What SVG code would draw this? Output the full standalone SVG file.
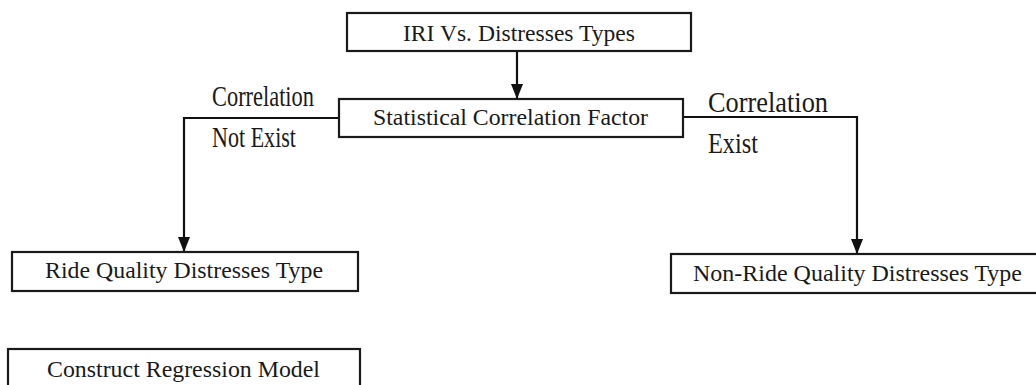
<svg xmlns="http://www.w3.org/2000/svg" width="1036" height="385" viewBox="0 0 1036 385">
<style>
.box{fill:#fff;stroke:#1a1a1a;stroke-width:2.2}
.bt{font-family:"Liberation Serif","Times New Roman",serif;font-size:23px;fill:#1a1a1a}
.lb{font-family:"Liberation Serif","Times New Roman",serif;font-size:30px;fill:#1a1a1a}
.cn{fill:none;stroke:#111;stroke-width:2.2}
</style>
<defs>
<marker id="ah" markerWidth="15" markerHeight="12" refX="15" refY="6" orient="auto" markerUnits="userSpaceOnUse" viewBox="0 0 15 12">
<path d="M0,0 L15,6 L0,12 Z" fill="#111"/>
</marker>
</defs>
<rect width="1036" height="385" fill="#fff"/>
<g id="connectors">
<line class="cn" x1="517" y1="51" x2="517" y2="99" marker-end="url(#ah)"/>
<polyline class="cn" points="339,118 184,118 184,252" marker-end="url(#ah)"/>
<polyline class="cn" points="683,117 857,117 857,254" marker-end="url(#ah)"/>
</g>
<g id="labels">
<text class="lb" x="212" y="106" textLength="102" lengthAdjust="spacingAndGlyphs">Correlation</text>
<text class="lb" x="212" y="147" textLength="84" lengthAdjust="spacingAndGlyphs">Not Exist</text>
<text class="lb" x="708" y="112" textLength="120" lengthAdjust="spacingAndGlyphs">Correlation</text>
<text class="lb" x="708" y="153" textLength="50" lengthAdjust="spacingAndGlyphs">Exist</text>
</g>
<g id="node-iri">
<rect class="box" x="347" y="13" width="344" height="38"/>
<text class="bt" x="403" y="41" textLength="232" lengthAdjust="spacingAndGlyphs">IRI Vs. Distresses Types</text>
</g>
<g id="node-stat">
<rect class="box" x="339" y="99" width="344" height="38"/>
<text class="bt" x="373" y="125" textLength="275" lengthAdjust="spacingAndGlyphs">Statistical Correlation Factor</text>
</g>
<g id="node-ride">
<rect class="box" x="12" y="252" width="346" height="39"/>
<text class="bt" x="45" y="278" textLength="278" lengthAdjust="spacingAndGlyphs">Ride Quality Distresses Type</text>
</g>
<g id="node-nonride">
<rect class="box" x="671" y="254" width="380" height="39"/>
<text class="bt" x="693" y="281" textLength="329" lengthAdjust="spacingAndGlyphs">Non-Ride Quality Distresses Type</text>
</g>
<g id="node-construct">
<rect class="box" x="8" y="349" width="352" height="50"/>
<text class="bt" x="47" y="377" textLength="273" lengthAdjust="spacingAndGlyphs">Construct Regression Model</text>
</g>
</svg>
